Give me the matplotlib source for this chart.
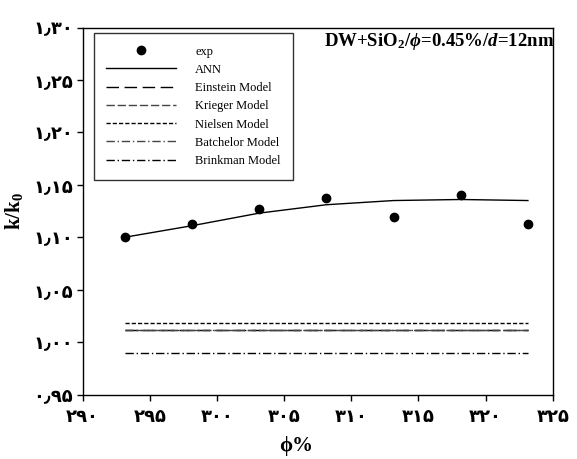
import matplotlib
matplotlib.use("Agg")
import matplotlib.pyplot as plt

# temperature (K) and k/k0 values
temp = [293.15, 298.15, 303.15, 308.15, 313.15, 318.15, 323.15]
k_exp = [1.100, 1.113, 1.127, 1.137, 1.119, 1.140, 1.113]
k_ann = [1.100, 1.111, 1.123, 1.131, 1.135, 1.136, 1.135]
k_einstein = [1.0117, 1.0117, 1.0117, 1.0117, 1.0117, 1.0117, 1.0117]
k_krieger = [1.0117, 1.0117, 1.0117, 1.0117, 1.0117, 1.0117, 1.0117]
k_nielsen = [1.018, 1.018, 1.018, 1.018, 1.018, 1.018, 1.018]
k_batchelor = [1.0117, 1.0117, 1.0117, 1.0117, 1.0117, 1.0117, 1.0117]
k_brinkman = [0.9894, 0.9894, 0.9894, 0.9894, 0.9894, 0.9894, 0.9894]

xticks = [290, 295, 300, 305, 310, 315, 320, 325]
yticks = [0.95, 1.00, 1.05, 1.10, 1.15, 1.20, 1.25, 1.30]

fa = str.maketrans("0123456789.", "۰۱۲۳۴۵۶۷۸۹٫")


def persian(v, fmt):
    return (fmt % v).translate(fa)


plt.rcParams['mathtext.fontset'] = 'custom'
plt.rcParams['mathtext.rm'] = 'Liberation Serif:bold'
plt.rcParams['mathtext.it'] = 'Liberation Serif:italic:bold'
plt.rcParams['mathtext.bf'] = 'Liberation Serif:bold'

fig = plt.figure(figsize=(5.77, 4.59), dpi=100)
ax = fig.add_axes([0.143, 0.1405, 0.815, 0.7995])

ax.plot(temp, k_exp, 'o', color='black', markersize=6, label='exp')
ax.plot(temp, k_ann, '-', color='black', lw=1, label='ANN')
ax.plot(temp, k_einstein, color='black', lw=1, ls=(0, (9, 4)), label='Einstein Model')
ax.plot(temp, k_krieger, color='#444444', lw=1, ls=(0, (6, 2)), label='Krieger Model')
ax.plot(temp, k_nielsen, color='black', lw=1, ls=(0, (3, 1.5)), label='Nielsen Model')
ax.plot(temp, k_batchelor, color='#444444', lw=1, ls=(0, (6, 2, 1, 2)), label='Batchelor Model')
ax.plot(temp, k_brinkman, color='black', lw=1, ls=(0, (6, 2, 1, 2)), label='Brinkman Model')

ax.set_xlim(290, 325)
ax.set_ylim(0.95, 1.30)
ax.set_xticks(xticks)
ax.set_yticks(yticks)
ax.set_xticklabels([persian(v, '%d') for v in xticks], family='DejaVu Sans',
                   fontweight='bold', fontsize=13)
ax.set_yticklabels([persian(v, '%.2f') for v in yticks], family='DejaVu Sans',
                   fontweight='bold', fontsize=13)
ax.tick_params(axis='x', direction='out', length=4, width=1, pad=6)
ax.tick_params(axis='y', direction='out', length=4, width=1, pad=3)

for s in ax.spines.values():
    s.set_linewidth(1)

ax.set_xlabel('ϕ%', family=['Liberation Serif', 'DejaVu Serif'], fontweight='bold',
              fontsize=15)
ax.xaxis.set_label_coords(0.454, -0.112)
ax.set_ylabel('k/k$_0$', family='Liberation Serif', fontweight='bold', fontsize=15)
ax.yaxis.set_label_coords(-0.122, 0.5)

ax.text(1.003, 0.99, r'DW+SiO$_2$/$\phi$=0.45%/$d$=12nm', transform=ax.transAxes,
        ha='right', va='top', family='Liberation Serif', fontweight='bold', fontsize=13.5)

leg = ax.legend(loc='upper left', bbox_to_anchor=(0.024, 0.985), borderaxespad=0,
                prop={'family': 'Liberation Serif', 'size': 9}, frameon=True,
                fancybox=False, edgecolor='black', handlelength=5.6, handletextpad=1.5,
                labelspacing=0.5, borderpad=1.0, numpoints=1)
leg.get_frame().set_linewidth(1)

fig.savefig('out.png', dpi=100)
